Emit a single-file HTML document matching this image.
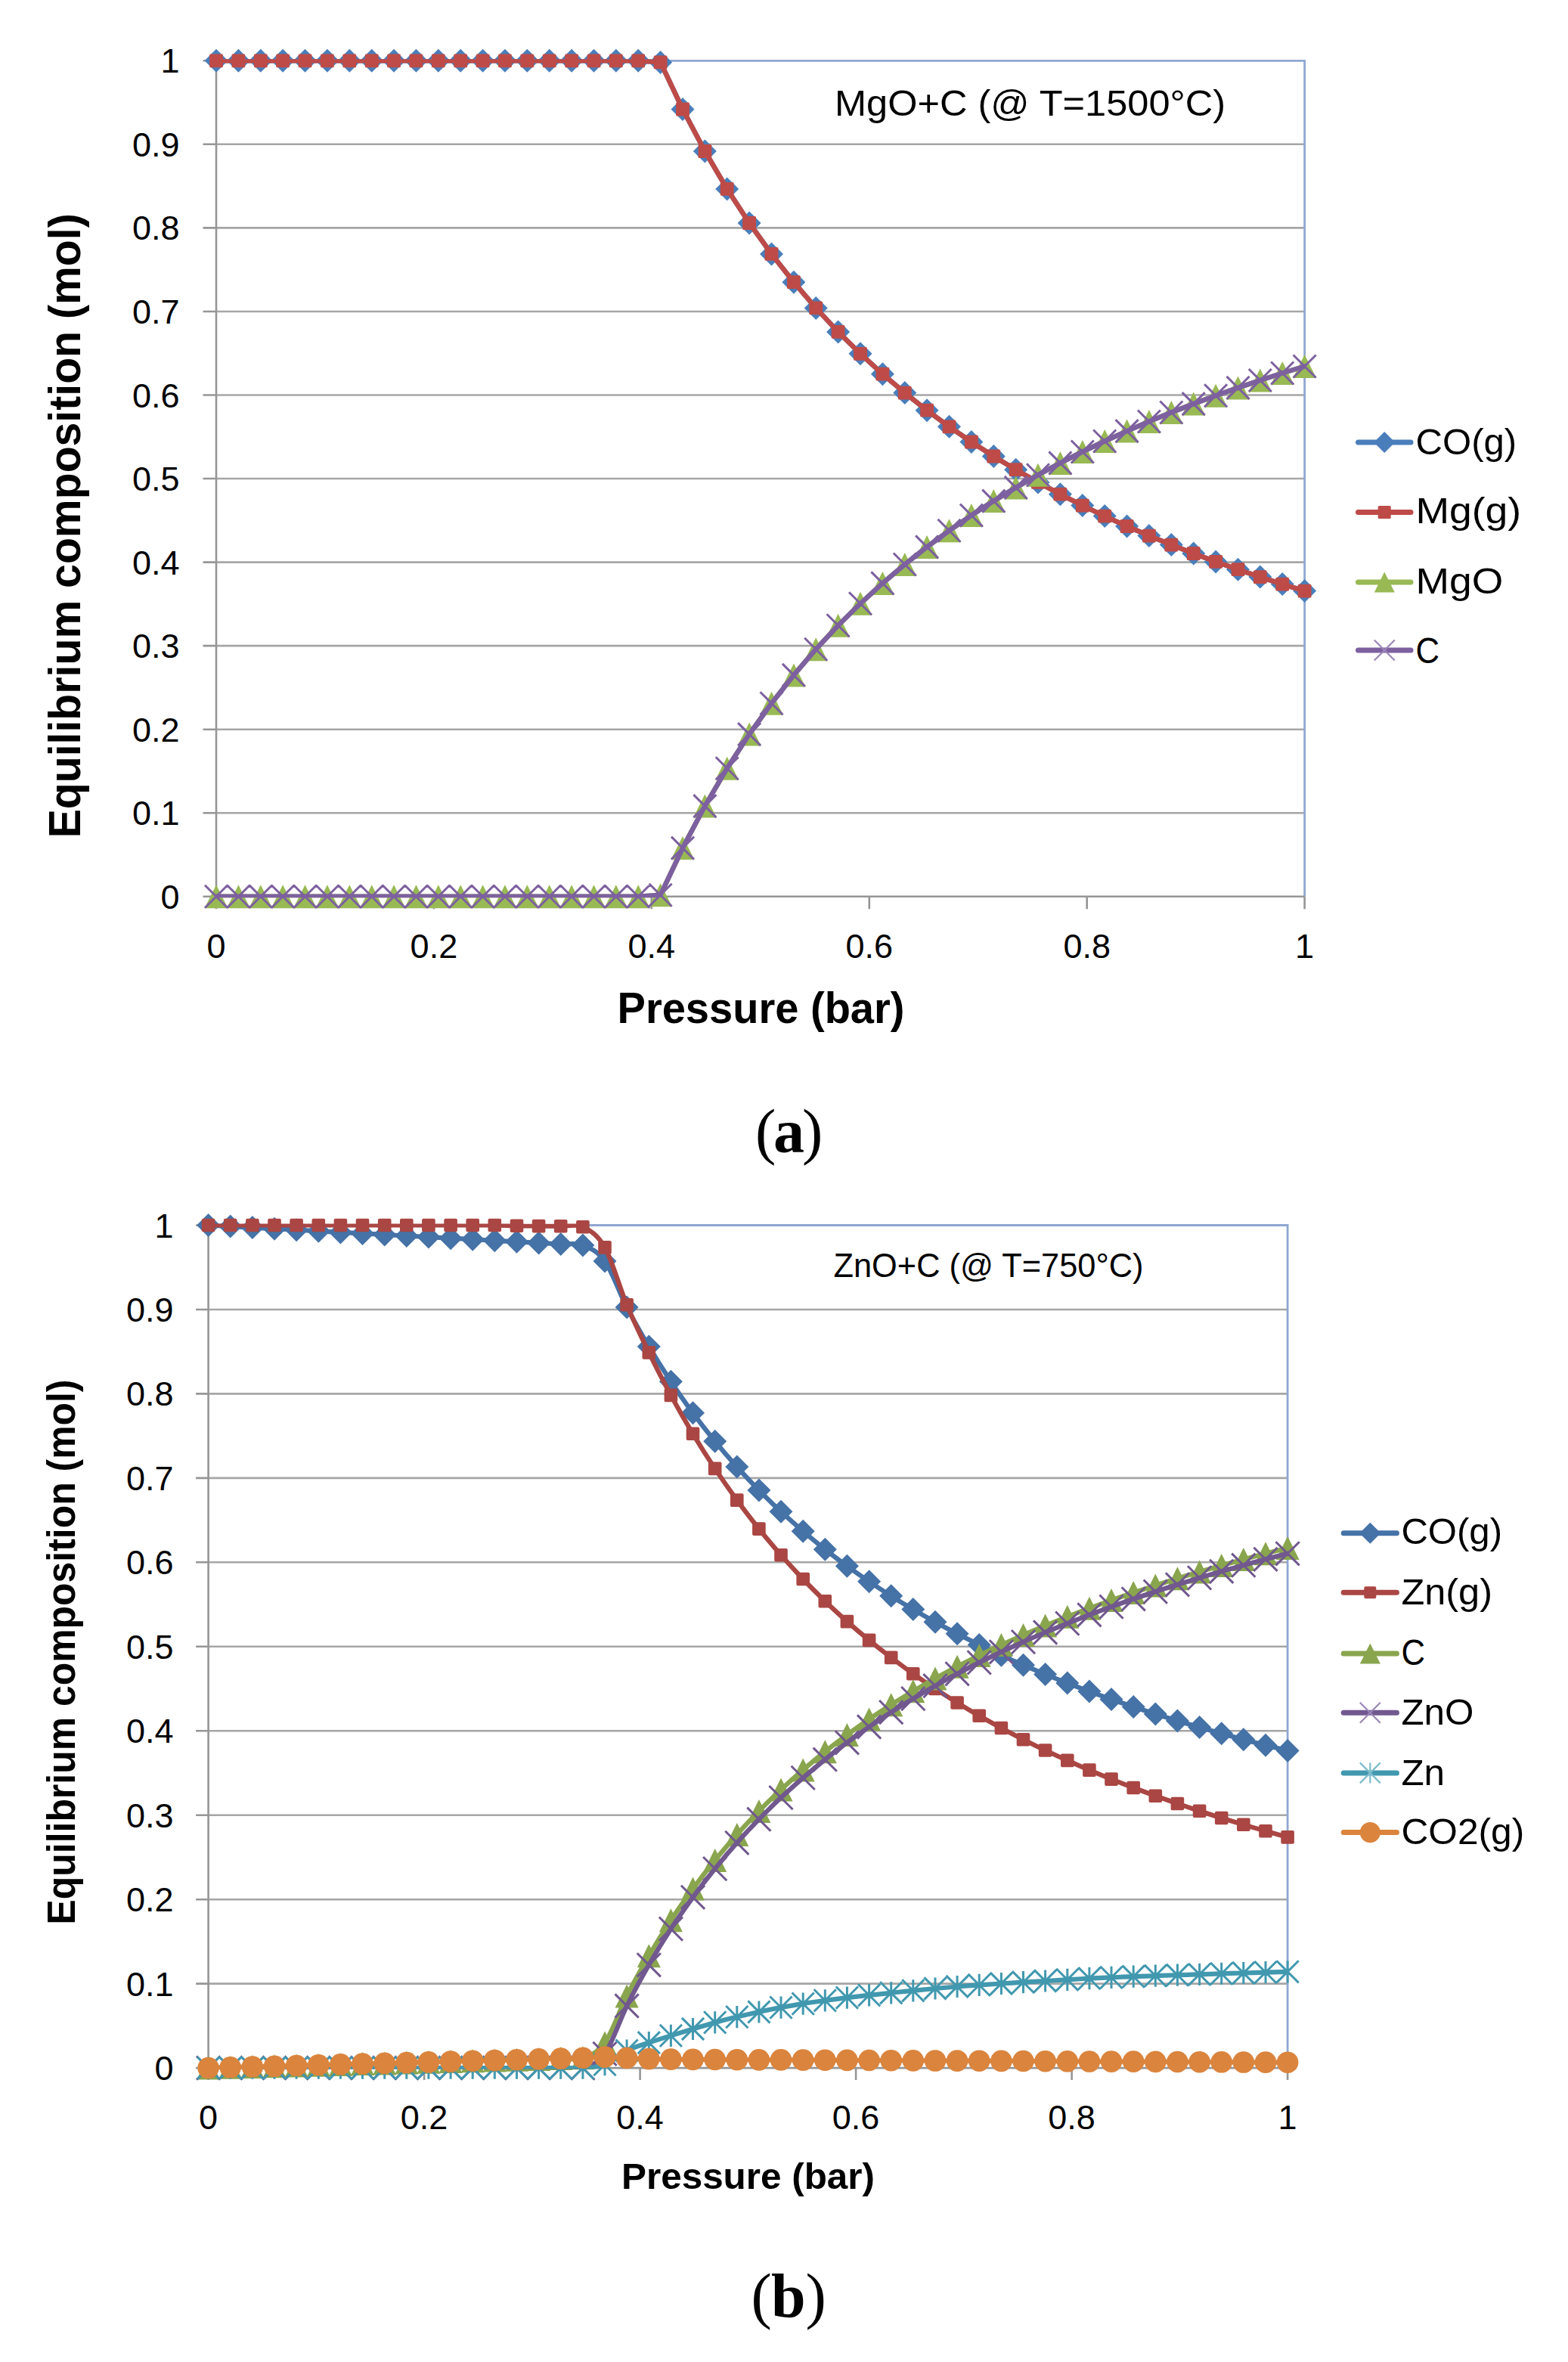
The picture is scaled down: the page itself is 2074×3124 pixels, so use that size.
<!DOCTYPE html>
<html lang="en"><head><meta charset="utf-8"><title>Equilibrium composition vs pressure</title>
<style>html,body{margin:0;padding:0;background:#fff}svg{display:block}text{fill:#000}</style></head>
<body>
<svg width="2074" height="3124" viewBox="0 0 2074 3124">
<rect width="2074" height="3124" fill="#fff"/>
<g>

<g id="chart-a">
<g fill="none" stroke="#a6a6a6" stroke-width="2.6">
<path d="M286 1075.2H1725.6M286 964.7H1725.6M286 854.1H1725.6M286 743.6H1725.6M286 633H1725.6M286 522.5H1725.6M286 412H1725.6M286 301.4H1725.6M286 190.8H1725.6"/>
</g>
<path d="M286 80.3H1725.6V1185.8" fill="none" stroke="#8fa7d3" stroke-width="2.8"/>
<path d="M286 80.3V1185.8M268.5 1185.8H1725.6M268.5 1185.8H286M268.5 1075.2H286M268.5 964.7H286M268.5 854.1H286M268.5 743.6H286M268.5 633H286M268.5 522.5H286M268.5 412H286M268.5 301.4H286M268.5 190.8H286M268.5 80.3H286M286 1185.8v16.5M573.9 1185.8v16.5M861.8 1185.8v16.5M1149.8 1185.8v16.5M1437.7 1185.8v16.5M1725.6 1185.8v16.5" fill="none" stroke="#969696" stroke-width="2.6"/>
<g font-family='"Liberation Sans", Arial, sans-serif' font-size="45" fill="#000">
<text x="237.5" y="1201.8" text-anchor="end">0</text>
<text x="237.5" y="1091.2" text-anchor="end">0.1</text>
<text x="237.5" y="980.7" text-anchor="end">0.2</text>
<text x="237.5" y="870.1" text-anchor="end">0.3</text>
<text x="237.5" y="759.6" text-anchor="end">0.4</text>
<text x="237.5" y="649" text-anchor="end">0.5</text>
<text x="237.5" y="538.5" text-anchor="end">0.6</text>
<text x="237.5" y="428" text-anchor="end">0.7</text>
<text x="237.5" y="317.4" text-anchor="end">0.8</text>
<text x="237.5" y="206.8" text-anchor="end">0.9</text>
<text x="237.5" y="96.3" text-anchor="end">1</text>
<text x="286" y="1266.5" text-anchor="middle">0</text>
<text x="573.9" y="1266.5" text-anchor="middle">0.2</text>
<text x="861.8" y="1266.5" text-anchor="middle">0.4</text>
<text x="1149.8" y="1266.5" text-anchor="middle">0.6</text>
<text x="1437.7" y="1266.5" text-anchor="middle">0.8</text>
<text x="1725.6" y="1266.5" text-anchor="middle">1</text>
</g>
<clipPath id="clip-a"><rect x="284" y="78.3" width="1443.6" height="1109"/></clipPath>
<path d="M286 80.3 315.4 80.3 344.8 80.3 374.1 80.3 403.5 80.3 432.9 80.3 462.3 80.3 491.7 80.3 521 80.3 550.4 80.3 579.8 80.3 609.2 80.3 638.6 80.3 667.9 80.3 697.3 80.3 726.7 80.3 756.1 80.3 785.5 80.3 814.8 80.3 844.2 80.3 873.6 82.4 903 144.5 932.4 200 961.7 249.9 991.1 295 1020.5 335.9 1049.9 373.2 1079.2 407.4 1108.6 438.9 1138 467.8 1167.4 494.7 1196.8 519.6 1226.1 542.7 1255.5 564.3 1284.9 584.5 1314.3 603.5 1343.7 621.2 1373 637.9 1402.4 653.7 1431.8 668.6 1461.2 682.6 1490.6 696 1519.9 708.6 1549.3 720.6 1578.7 732 1608.1 742.9 1637.5 753.2 1666.8 763.1 1696.2 772.6 1725.6 781.6" fill="none" stroke="#4a7ebb" stroke-width="6.5" stroke-linejoin="round" stroke-linecap="round" clip-path="url(#clip-a)"/>
<path d="M286 64.8l15.5 15.5 -15.5 15.5 -15.5 -15.5zM315.4 64.8l15.5 15.5 -15.5 15.5 -15.5 -15.5zM344.8 64.8l15.5 15.5 -15.5 15.5 -15.5 -15.5zM374.1 64.8l15.5 15.5 -15.5 15.5 -15.5 -15.5zM403.5 64.8l15.5 15.5 -15.5 15.5 -15.5 -15.5zM432.9 64.8l15.5 15.5 -15.5 15.5 -15.5 -15.5zM462.3 64.8l15.5 15.5 -15.5 15.5 -15.5 -15.5zM491.7 64.8l15.5 15.5 -15.5 15.5 -15.5 -15.5zM521 64.8l15.5 15.5 -15.5 15.5 -15.5 -15.5zM550.4 64.8l15.5 15.5 -15.5 15.5 -15.5 -15.5zM579.8 64.8l15.5 15.5 -15.5 15.5 -15.5 -15.5zM609.2 64.8l15.5 15.5 -15.5 15.5 -15.5 -15.5zM638.6 64.8l15.5 15.5 -15.5 15.5 -15.5 -15.5zM667.9 64.8l15.5 15.5 -15.5 15.5 -15.5 -15.5zM697.3 64.8l15.5 15.5 -15.5 15.5 -15.5 -15.5zM726.7 64.8l15.5 15.5 -15.5 15.5 -15.5 -15.5zM756.1 64.8l15.5 15.5 -15.5 15.5 -15.5 -15.5zM785.5 64.8l15.5 15.5 -15.5 15.5 -15.5 -15.5zM814.8 64.8l15.5 15.5 -15.5 15.5 -15.5 -15.5zM844.2 64.8l15.5 15.5 -15.5 15.5 -15.5 -15.5zM873.6 66.9l15.5 15.5 -15.5 15.5 -15.5 -15.5zM903 129l15.5 15.5 -15.5 15.5 -15.5 -15.5zM932.4 184.5l15.5 15.5 -15.5 15.5 -15.5 -15.5zM961.7 234.4l15.5 15.5 -15.5 15.5 -15.5 -15.5zM991.1 279.5l15.5 15.5 -15.5 15.5 -15.5 -15.5zM1020.5 320.4l15.5 15.5 -15.5 15.5 -15.5 -15.5zM1049.9 357.7l15.5 15.5 -15.5 15.5 -15.5 -15.5zM1079.2 391.9l15.5 15.5 -15.5 15.5 -15.5 -15.5zM1108.6 423.4l15.5 15.5 -15.5 15.5 -15.5 -15.5zM1138 452.3l15.5 15.5 -15.5 15.5 -15.5 -15.5zM1167.4 479.2l15.5 15.5 -15.5 15.5 -15.5 -15.5zM1196.8 504.1l15.5 15.5 -15.5 15.5 -15.5 -15.5zM1226.1 527.2l15.5 15.5 -15.5 15.5 -15.5 -15.5zM1255.5 548.8l15.5 15.5 -15.5 15.5 -15.5 -15.5zM1284.9 569l15.5 15.5 -15.5 15.5 -15.5 -15.5zM1314.3 588l15.5 15.5 -15.5 15.5 -15.5 -15.5zM1343.7 605.7l15.5 15.5 -15.5 15.5 -15.5 -15.5zM1373 622.4l15.5 15.5 -15.5 15.5 -15.5 -15.5zM1402.4 638.2l15.5 15.5 -15.5 15.5 -15.5 -15.5zM1431.8 653.1l15.5 15.5 -15.5 15.5 -15.5 -15.5zM1461.2 667.1l15.5 15.5 -15.5 15.5 -15.5 -15.5zM1490.6 680.5l15.5 15.5 -15.5 15.5 -15.5 -15.5zM1519.9 693.1l15.5 15.5 -15.5 15.5 -15.5 -15.5zM1549.3 705.1l15.5 15.5 -15.5 15.5 -15.5 -15.5zM1578.7 716.5l15.5 15.5 -15.5 15.5 -15.5 -15.5zM1608.1 727.4l15.5 15.5 -15.5 15.5 -15.5 -15.5zM1637.5 737.7l15.5 15.5 -15.5 15.5 -15.5 -15.5zM1666.8 747.6l15.5 15.5 -15.5 15.5 -15.5 -15.5zM1696.2 757.1l15.5 15.5 -15.5 15.5 -15.5 -15.5zM1725.6 766.1l15.5 15.5 -15.5 15.5 -15.5 -15.5z" fill="#4a7ebb"/>
<path d="M286 80.3 315.4 80.3 344.8 80.3 374.1 80.3 403.5 80.3 432.9 80.3 462.3 80.3 491.7 80.3 521 80.3 550.4 80.3 579.8 80.3 609.2 80.3 638.6 80.3 667.9 80.3 697.3 80.3 726.7 80.3 756.1 80.3 785.5 80.3 814.8 80.3 844.2 80.3 873.6 82.4 903 144.5 932.4 200 961.7 249.9 991.1 295 1020.5 335.9 1049.9 373.2 1079.2 407.4 1108.6 438.9 1138 467.8 1167.4 494.7 1196.8 519.6 1226.1 542.7 1255.5 564.3 1284.9 584.5 1314.3 603.5 1343.7 621.2 1373 637.9 1402.4 653.7 1431.8 668.6 1461.2 682.6 1490.6 696 1519.9 708.6 1549.3 720.6 1578.7 732 1608.1 742.9 1637.5 753.2 1666.8 763.1 1696.2 772.6 1725.6 781.6" fill="none" stroke="#be4b48" stroke-width="6.5" stroke-linejoin="round" stroke-linecap="round" clip-path="url(#clip-a)"/>
<path d="M278.6 72.9h14.8v14.8h-14.8zM308 72.9h14.8v14.8h-14.8zM337.4 72.9h14.8v14.8h-14.8zM366.7 72.9h14.8v14.8h-14.8zM396.1 72.9h14.8v14.8h-14.8zM425.5 72.9h14.8v14.8h-14.8zM454.9 72.9h14.8v14.8h-14.8zM484.3 72.9h14.8v14.8h-14.8zM513.6 72.9h14.8v14.8h-14.8zM543 72.9h14.8v14.8h-14.8zM572.4 72.9h14.8v14.8h-14.8zM601.8 72.9h14.8v14.8h-14.8zM631.2 72.9h14.8v14.8h-14.8zM660.5 72.9h14.8v14.8h-14.8zM689.9 72.9h14.8v14.8h-14.8zM719.3 72.9h14.8v14.8h-14.8zM748.7 72.9h14.8v14.8h-14.8zM778.1 72.9h14.8v14.8h-14.8zM807.4 72.9h14.8v14.8h-14.8zM836.8 72.9h14.8v14.8h-14.8zM866.2 75h14.8v14.8h-14.8zM895.6 137.1h14.8v14.8h-14.8zM925 192.6h14.8v14.8h-14.8zM954.3 242.5h14.8v14.8h-14.8zM983.7 287.6h14.8v14.8h-14.8zM1013.1 328.5h14.8v14.8h-14.8zM1042.5 365.8h14.8v14.8h-14.8zM1071.8 400h14.8v14.8h-14.8zM1101.2 431.5h14.8v14.8h-14.8zM1130.6 460.4h14.8v14.8h-14.8zM1160 487.3h14.8v14.8h-14.8zM1189.4 512.2h14.8v14.8h-14.8zM1218.7 535.3h14.8v14.8h-14.8zM1248.1 556.9h14.8v14.8h-14.8zM1277.5 577.1h14.8v14.8h-14.8zM1306.9 596.1h14.8v14.8h-14.8zM1336.3 613.8h14.8v14.8h-14.8zM1365.6 630.5h14.8v14.8h-14.8zM1395 646.3h14.8v14.8h-14.8zM1424.4 661.2h14.8v14.8h-14.8zM1453.8 675.2h14.8v14.8h-14.8zM1483.2 688.6h14.8v14.8h-14.8zM1512.5 701.2h14.8v14.8h-14.8zM1541.9 713.2h14.8v14.8h-14.8zM1571.3 724.6h14.8v14.8h-14.8zM1600.7 735.5h14.8v14.8h-14.8zM1630.1 745.8h14.8v14.8h-14.8zM1659.4 755.7h14.8v14.8h-14.8zM1688.8 765.2h14.8v14.8h-14.8zM1718.2 774.2h14.8v14.8h-14.8z" fill="#be4b48" stroke="#be4b48" stroke-width="3" stroke-linejoin="round"/>
<path d="M286 1185.8 315.4 1185.8 344.8 1185.8 374.1 1185.8 403.5 1185.8 432.9 1185.8 462.3 1185.8 491.7 1185.8 521 1185.8 550.4 1185.8 579.8 1185.8 609.2 1185.8 638.6 1185.8 667.9 1185.8 697.3 1185.8 726.7 1185.8 756.1 1185.8 785.5 1185.8 814.8 1185.8 844.2 1185.8 873.6 1183.7 903 1121.6 932.4 1066.1 961.7 1016.2 991.1 971.1 1020.5 930.2 1049.9 892.9 1079.2 858.7 1108.6 827.2 1138 798.3 1167.4 771.4 1196.8 746.5 1226.1 723.4 1255.5 701.8 1284.9 681.6 1314.3 662.6 1343.7 644.9 1373 628.2 1402.4 612.4 1431.8 597.5 1461.2 583.5 1490.6 570.1 1519.9 557.5 1549.3 545.5 1578.7 534.1 1608.1 523.2 1637.5 512.9 1666.8 503 1696.2 493.5 1725.6 484.5" fill="none" stroke="#98b954" stroke-width="6.5" stroke-linejoin="round" stroke-linecap="round" clip-path="url(#clip-a)"/>
<path d="M286 1170.3L301.5 1201.3H270.5zM315.4 1170.3L330.9 1201.3H299.9zM344.8 1170.3L360.3 1201.3H329.3zM374.1 1170.3L389.6 1201.3H358.6zM403.5 1170.3L419 1201.3H388zM432.9 1170.3L448.4 1201.3H417.4zM462.3 1170.3L477.8 1201.3H446.8zM491.7 1170.3L507.2 1201.3H476.2zM521 1170.3L536.5 1201.3H505.5zM550.4 1170.3L565.9 1201.3H534.9zM579.8 1170.3L595.3 1201.3H564.3zM609.2 1170.3L624.7 1201.3H593.7zM638.6 1170.3L654.1 1201.3H623.1zM667.9 1170.3L683.4 1201.3H652.4zM697.3 1170.3L712.8 1201.3H681.8zM726.7 1170.3L742.2 1201.3H711.2zM756.1 1170.3L771.6 1201.3H740.6zM785.5 1170.3L801 1201.3H770zM814.8 1170.3L830.3 1201.3H799.3zM844.2 1170.3L859.7 1201.3H828.7zM873.6 1168.2L889.1 1199.2H858.1zM903 1106.1L918.5 1137.1H887.5zM932.4 1050.6L947.9 1081.6H916.9zM961.7 1000.7L977.2 1031.7H946.2zM991.1 955.6L1006.6 986.6H975.6zM1020.5 914.7L1036 945.7H1005zM1049.9 877.4L1065.4 908.4H1034.4zM1079.2 843.2L1094.7 874.2H1063.7zM1108.6 811.7L1124.1 842.7H1093.1zM1138 782.8L1153.5 813.8H1122.5zM1167.4 755.9L1182.9 786.9H1151.9zM1196.8 731L1212.3 762H1181.3zM1226.1 707.9L1241.6 738.9H1210.6zM1255.5 686.3L1271 717.3H1240zM1284.9 666.1L1300.4 697.1H1269.4zM1314.3 647.1L1329.8 678.1H1298.8zM1343.7 629.4L1359.2 660.4H1328.2zM1373 612.7L1388.5 643.7H1357.5zM1402.4 596.9L1417.9 627.9H1386.9zM1431.8 582L1447.3 613H1416.3zM1461.2 568L1476.7 599H1445.7zM1490.6 554.6L1506.1 585.6H1475.1zM1519.9 542L1535.4 573H1504.4zM1549.3 530L1564.8 561H1533.8zM1578.7 518.6L1594.2 549.6H1563.2zM1608.1 507.7L1623.6 538.7H1592.6zM1637.5 497.4L1653 528.4H1622zM1666.8 487.5L1682.3 518.5H1651.3zM1696.2 478L1711.7 509H1680.7zM1725.6 469L1741.1 500H1710.1z" fill="#98b954"/>
<path d="M286 1185.8 315.4 1185.8 344.8 1185.8 374.1 1185.8 403.5 1185.8 432.9 1185.8 462.3 1185.8 491.7 1185.8 521 1185.8 550.4 1185.8 579.8 1185.8 609.2 1185.8 638.6 1185.8 667.9 1185.8 697.3 1185.8 726.7 1185.8 756.1 1185.8 785.5 1185.8 814.8 1185.8 844.2 1185.8 873.6 1183.7 903 1121.6 932.4 1066.1 961.7 1016.2 991.1 971.1 1020.5 930.2 1049.9 892.9 1079.2 858.7 1108.6 827.2 1138 798.3 1167.4 771.4 1196.8 746.5 1226.1 723.4 1255.5 701.8 1284.9 681.6 1314.3 662.6 1343.7 644.9 1373 628.2 1402.4 612.4 1431.8 597.5 1461.2 583.5 1490.6 570.1 1519.9 557.5 1549.3 545.5 1578.7 534.1 1608.1 523.2 1637.5 512.9 1666.8 503 1696.2 493.5 1725.6 484.5" fill="none" stroke="#7d60a0" stroke-width="6.5" stroke-linejoin="round" stroke-linecap="round" clip-path="url(#clip-a)"/>
<path d="M271 1170.8l30 30M271 1200.8l30 -30M300.4 1170.8l30 30M300.4 1200.8l30 -30M329.8 1170.8l30 30M329.8 1200.8l30 -30M359.1 1170.8l30 30M359.1 1200.8l30 -30M388.5 1170.8l30 30M388.5 1200.8l30 -30M417.9 1170.8l30 30M417.9 1200.8l30 -30M447.3 1170.8l30 30M447.3 1200.8l30 -30M476.7 1170.8l30 30M476.7 1200.8l30 -30M506 1170.8l30 30M506 1200.8l30 -30M535.4 1170.8l30 30M535.4 1200.8l30 -30M564.8 1170.8l30 30M564.8 1200.8l30 -30M594.2 1170.8l30 30M594.2 1200.8l30 -30M623.6 1170.8l30 30M623.6 1200.8l30 -30M652.9 1170.8l30 30M652.9 1200.8l30 -30M682.3 1170.8l30 30M682.3 1200.8l30 -30M711.7 1170.8l30 30M711.7 1200.8l30 -30M741.1 1170.8l30 30M741.1 1200.8l30 -30M770.5 1170.8l30 30M770.5 1200.8l30 -30M799.8 1170.8l30 30M799.8 1200.8l30 -30M829.2 1170.8l30 30M829.2 1200.8l30 -30M858.6 1168.7l30 30M858.6 1198.7l30 -30M888 1106.6l30 30M888 1136.6l30 -30M917.4 1051.1l30 30M917.4 1081.1l30 -30M946.7 1001.2l30 30M946.7 1031.2l30 -30M976.1 956.1l30 30M976.1 986.1l30 -30M1005.5 915.2l30 30M1005.5 945.2l30 -30M1034.9 877.9l30 30M1034.9 907.9l30 -30M1064.2 843.7l30 30M1064.2 873.7l30 -30M1093.6 812.2l30 30M1093.6 842.2l30 -30M1123 783.3l30 30M1123 813.3l30 -30M1152.4 756.4l30 30M1152.4 786.4l30 -30M1181.8 731.5l30 30M1181.8 761.5l30 -30M1211.1 708.4l30 30M1211.1 738.4l30 -30M1240.5 686.8l30 30M1240.5 716.8l30 -30M1269.9 666.6l30 30M1269.9 696.6l30 -30M1299.3 647.6l30 30M1299.3 677.6l30 -30M1328.7 629.9l30 30M1328.7 659.9l30 -30M1358 613.2l30 30M1358 643.2l30 -30M1387.4 597.4l30 30M1387.4 627.4l30 -30M1416.8 582.5l30 30M1416.8 612.5l30 -30M1446.2 568.5l30 30M1446.2 598.5l30 -30M1475.6 555.1l30 30M1475.6 585.1l30 -30M1504.9 542.5l30 30M1504.9 572.5l30 -30M1534.3 530.5l30 30M1534.3 560.5l30 -30M1563.7 519.1l30 30M1563.7 549.1l30 -30M1593.1 508.2l30 30M1593.1 538.2l30 -30M1622.5 497.9l30 30M1622.5 527.9l30 -30M1651.8 488l30 30M1651.8 518l30 -30M1681.2 478.5l30 30M1681.2 508.5l30 -30M1710.6 469.5l30 30M1710.6 499.5l30 -30" fill="none" stroke="#7d60a0" stroke-width="3"/>
<path d="M1796.5 585H1866" stroke="#4a7ebb" stroke-width="7" stroke-linecap="round" fill="none"/>
<path d="M1831.2 571l14 14 -14 14 -14 -14z" fill="#4a7ebb"/>
<text x="1872.5" y="601" font-family='"Liberation Sans", Arial, sans-serif' font-size="49" textLength="133.7" lengthAdjust="spacingAndGlyphs">CO(g)</text>

<path d="M1796.5 677.4H1866" stroke="#be4b48" stroke-width="7" stroke-linecap="round" fill="none"/>
<path d="M1824.2 670.4h14v14h-14z" fill="#be4b48" stroke="#be4b48" stroke-width="3" stroke-linejoin="round"/>
<text x="1872.5" y="692" font-family='"Liberation Sans", Arial, sans-serif' font-size="49" textLength="139.7" lengthAdjust="spacingAndGlyphs">Mg(g)</text>

<path d="M1796.5 770H1866" stroke="#98b954" stroke-width="7" stroke-linecap="round" fill="none"/>
<path d="M1831.2 756.5L1844.8 783.5H1817.8z" fill="#98b954"/>
<text x="1872.5" y="785" font-family='"Liberation Sans", Arial, sans-serif' font-size="49" textLength="115.7" lengthAdjust="spacingAndGlyphs">MgO</text>

<path d="M1796.5 860H1866" stroke="#7d60a0" stroke-width="7" stroke-linecap="round" fill="none"/>
<path d="M1817.8 846.5l27 27M1817.8 873.5l27 -27" fill="none" stroke="#9a86b8" stroke-width="2.2"/>
<text x="1872.5" y="877" font-family='"Liberation Sans", Arial, sans-serif' font-size="49" textLength="31.5" lengthAdjust="spacingAndGlyphs">C</text>

<text x="1104" y="153" font-family='"Liberation Sans", Arial, sans-serif' font-size="49" textLength="517" lengthAdjust="spacingAndGlyphs">MgO+C (@ T=1500°C)</text>

<text x="816.5" y="1352.9" font-family='"Liberation Sans", Arial, sans-serif' font-size="57.7" font-weight="bold" textLength="380" lengthAdjust="spacingAndGlyphs">Pressure (bar)</text>

<text transform="translate(106.2 1108.3) rotate(-90)" font-family='"Liberation Sans", Arial, sans-serif' font-size="60" font-weight="bold" textLength="826" lengthAdjust="spacingAndGlyphs">Equilibrium composition (mol)</text>
</g>
<text y="1523.5" font-family='"Liberation Serif", "DejaVu Serif", serif' font-size="82"><tspan x="999">(</tspan><tspan x="1023" font-weight="bold">a</tspan><tspan x="1061">)</tspan></text>
<g id="chart-b">
<g fill="none" stroke="#a6a6a6" stroke-width="2.6">
<path d="M275.6 2623.6H1703.1M275.6 2512.2H1703.1M275.6 2400.7H1703.1M275.6 2289.3H1703.1M275.6 2177.8H1703.1M275.6 2066.3H1703.1M275.6 1954.9H1703.1M275.6 1843.4H1703.1M275.6 1732H1703.1"/>
</g>
<path d="M275.6 1620.5H1703.1V2735.1" fill="none" stroke="#8fa7d3" stroke-width="2.8"/>
<path d="M275.6 1620.5V2735.1M259.1 2735.1H1703.1M259.1 2735.1H275.6M259.1 2623.6H275.6M259.1 2512.2H275.6M259.1 2400.7H275.6M259.1 2289.3H275.6M259.1 2177.8H275.6M259.1 2066.3H275.6M259.1 1954.9H275.6M259.1 1843.4H275.6M259.1 1732H275.6M259.1 1620.5H275.6M275.6 2735.1v16M561.1 2735.1v16M846.6 2735.1v16M1132.1 2735.1v16M1417.6 2735.1v16M1703.1 2735.1v16" fill="none" stroke="#969696" stroke-width="2.6"/>
<g font-family='"Liberation Sans", Arial, sans-serif' font-size="45" fill="#000">
<text x="229.5" y="2751.1" text-anchor="end">0</text>
<text x="229.5" y="2639.6" text-anchor="end">0.1</text>
<text x="229.5" y="2528.2" text-anchor="end">0.2</text>
<text x="229.5" y="2416.7" text-anchor="end">0.3</text>
<text x="229.5" y="2305.3" text-anchor="end">0.4</text>
<text x="229.5" y="2193.8" text-anchor="end">0.5</text>
<text x="229.5" y="2082.3" text-anchor="end">0.6</text>
<text x="229.5" y="1970.9" text-anchor="end">0.7</text>
<text x="229.5" y="1859.4" text-anchor="end">0.8</text>
<text x="229.5" y="1748" text-anchor="end">0.9</text>
<text x="229.5" y="1636.5" text-anchor="end">1</text>
<text x="275.6" y="2816.3" text-anchor="middle">0</text>
<text x="561.1" y="2816.3" text-anchor="middle">0.2</text>
<text x="846.6" y="2816.3" text-anchor="middle">0.4</text>
<text x="1132.1" y="2816.3" text-anchor="middle">0.6</text>
<text x="1417.6" y="2816.3" text-anchor="middle">0.8</text>
<text x="1703.1" y="2816.3" text-anchor="middle">1</text>
</g>
<clipPath id="clip-b"><rect x="273.6" y="1618.5" width="1431.5" height="1118.1"/></clipPath>
<path d="M275.6 1620.5C280.5 1620.8 295 1621.5 304.7 1622.1C314.4 1622.6 324.2 1623.1 333.9 1623.6C343.6 1624.1 353.3 1624.7 363 1625.2C372.7 1625.7 382.4 1626.2 392.1 1626.7C401.8 1627.3 411.6 1627.8 421.3 1628.3C431 1628.8 440.7 1629.3 450.4 1629.9C460.1 1630.4 469.8 1630.9 479.5 1631.4C489.2 1631.9 499 1632.5 508.7 1633C518.4 1633.5 528.1 1634 537.8 1634.5C547.5 1635.1 557.2 1635.6 566.9 1636.1C576.6 1636.6 586.3 1637.1 596.1 1637.7C605.8 1638.2 615.5 1638.7 625.2 1639.2C634.9 1639.7 644.6 1640.3 654.3 1640.8C664 1641.3 673.7 1641.8 683.5 1642.3C693.2 1642.9 702.9 1643.4 712.6 1643.9C722.3 1644.4 732 1644.9 741.7 1645.5C751.4 1646 761.1 1643.3 770.9 1647C780.6 1650.8 790.3 1654.5 800 1668.1C809.7 1681.7 819.4 1710.1 829.1 1728.9C838.8 1747.7 848.5 1764.5 858.3 1780.9C868 1797.3 877.7 1812.6 887.4 1827.2C897.1 1841.9 906.8 1855.6 916.5 1868.8C926.2 1881.9 935.9 1894.3 945.7 1906.2C955.4 1918.1 965.1 1929.3 974.8 1940.1C984.5 1950.9 994.2 1961.2 1003.9 1971C1013.6 1980.9 1023.3 1990.3 1033 1999.3C1042.8 2008.3 1052.5 2016.9 1062.2 2025.2C1071.9 2033.6 1081.6 2041.5 1091.3 2049.2C1101 2056.8 1110.7 2064.2 1120.4 2071.3C1130.2 2078.4 1139.9 2085.2 1149.6 2091.8C1159.3 2098.4 1169 2104.7 1178.7 2110.8C1188.4 2117 1198.1 2122.9 1207.8 2128.6C1217.6 2134.3 1227.3 2139.9 1237 2145.2C1246.7 2150.6 1256.4 2155.8 1266.1 2160.8C1275.8 2165.8 1285.5 2170.7 1295.2 2175.4C1305 2180.2 1314.7 2184.8 1324.4 2189.2C1334.1 2193.7 1343.8 2198 1353.5 2202.2C1363.2 2206.4 1372.9 2210.5 1382.6 2214.5C1392.4 2218.4 1402.1 2222.3 1411.8 2226.1C1421.5 2229.8 1431.2 2233.5 1440.9 2237.1C1450.6 2240.7 1460.3 2244.1 1470 2247.5C1479.7 2250.9 1489.5 2254.2 1499.2 2257.5C1508.9 2260.7 1518.6 2263.9 1528.3 2266.9C1538 2270 1547.7 2273 1557.4 2276C1567.1 2278.9 1576.9 2281.8 1586.6 2284.6C1596.3 2287.4 1606 2290.1 1615.7 2292.8C1625.4 2295.5 1635.1 2298.2 1644.8 2300.7C1654.5 2303.3 1664.3 2305.8 1674 2308.3C1683.7 2310.8 1698.2 2314.3 1703.1 2315.5" fill="none" stroke="#4572a7" stroke-width="6.2" stroke-linejoin="round" stroke-linecap="round" clip-path="url(#clip-b)"/>
<path d="M275.6 1605l15.5 15.5 -15.5 15.5 -15.5 -15.5zM304.7 1606.6l15.5 15.5 -15.5 15.5 -15.5 -15.5zM333.9 1608.1l15.5 15.5 -15.5 15.5 -15.5 -15.5zM363 1609.7l15.5 15.5 -15.5 15.5 -15.5 -15.5zM392.1 1611.2l15.5 15.5 -15.5 15.5 -15.5 -15.5zM421.3 1612.8l15.5 15.5 -15.5 15.5 -15.5 -15.5zM450.4 1614.4l15.5 15.5 -15.5 15.5 -15.5 -15.5zM479.5 1615.9l15.5 15.5 -15.5 15.5 -15.5 -15.5zM508.7 1617.5l15.5 15.5 -15.5 15.5 -15.5 -15.5zM537.8 1619l15.5 15.5 -15.5 15.5 -15.5 -15.5zM566.9 1620.6l15.5 15.5 -15.5 15.5 -15.5 -15.5zM596.1 1622.2l15.5 15.5 -15.5 15.5 -15.5 -15.5zM625.2 1623.7l15.5 15.5 -15.5 15.5 -15.5 -15.5zM654.3 1625.3l15.5 15.5 -15.5 15.5 -15.5 -15.5zM683.5 1626.8l15.5 15.5 -15.5 15.5 -15.5 -15.5zM712.6 1628.4l15.5 15.5 -15.5 15.5 -15.5 -15.5zM741.7 1630l15.5 15.5 -15.5 15.5 -15.5 -15.5zM770.9 1631.5l15.5 15.5 -15.5 15.5 -15.5 -15.5zM800 1652.6l15.5 15.5 -15.5 15.5 -15.5 -15.5zM829.1 1713.4l15.5 15.5 -15.5 15.5 -15.5 -15.5zM858.3 1765.4l15.5 15.5 -15.5 15.5 -15.5 -15.5zM887.4 1811.7l15.5 15.5 -15.5 15.5 -15.5 -15.5zM916.5 1853.3l15.5 15.5 -15.5 15.5 -15.5 -15.5zM945.7 1890.7l15.5 15.5 -15.5 15.5 -15.5 -15.5zM974.8 1924.6l15.5 15.5 -15.5 15.5 -15.5 -15.5zM1003.9 1955.5l15.5 15.5 -15.5 15.5 -15.5 -15.5zM1033 1983.8l15.5 15.5 -15.5 15.5 -15.5 -15.5zM1062.2 2009.7l15.5 15.5 -15.5 15.5 -15.5 -15.5zM1091.3 2033.7l15.5 15.5 -15.5 15.5 -15.5 -15.5zM1120.4 2055.8l15.5 15.5 -15.5 15.5 -15.5 -15.5zM1149.6 2076.3l15.5 15.5 -15.5 15.5 -15.5 -15.5zM1178.7 2095.3l15.5 15.5 -15.5 15.5 -15.5 -15.5zM1207.8 2113.1l15.5 15.5 -15.5 15.5 -15.5 -15.5zM1237 2129.7l15.5 15.5 -15.5 15.5 -15.5 -15.5zM1266.1 2145.3l15.5 15.5 -15.5 15.5 -15.5 -15.5zM1295.2 2159.9l15.5 15.5 -15.5 15.5 -15.5 -15.5zM1324.4 2173.7l15.5 15.5 -15.5 15.5 -15.5 -15.5zM1353.5 2186.7l15.5 15.5 -15.5 15.5 -15.5 -15.5zM1382.6 2199l15.5 15.5 -15.5 15.5 -15.5 -15.5zM1411.8 2210.6l15.5 15.5 -15.5 15.5 -15.5 -15.5zM1440.9 2221.6l15.5 15.5 -15.5 15.5 -15.5 -15.5zM1470 2232l15.5 15.5 -15.5 15.5 -15.5 -15.5zM1499.2 2242l15.5 15.5 -15.5 15.5 -15.5 -15.5zM1528.3 2251.4l15.5 15.5 -15.5 15.5 -15.5 -15.5zM1557.4 2260.5l15.5 15.5 -15.5 15.5 -15.5 -15.5zM1586.6 2269.1l15.5 15.5 -15.5 15.5 -15.5 -15.5zM1615.7 2277.3l15.5 15.5 -15.5 15.5 -15.5 -15.5zM1644.8 2285.2l15.5 15.5 -15.5 15.5 -15.5 -15.5zM1674 2292.8l15.5 15.5 -15.5 15.5 -15.5 -15.5zM1703.1 2300l15.5 15.5 -15.5 15.5 -15.5 -15.5z" fill="#4572a7"/>
<path d="M275.6 1620.5C280.5 1620.5 295 1620.5 304.7 1620.5C314.4 1620.5 324.2 1620.5 333.9 1620.5C343.6 1620.5 353.3 1620.5 363 1620.5C372.7 1620.5 382.4 1620.5 392.1 1620.5C401.8 1620.5 411.6 1620.5 421.3 1620.5C431 1620.5 440.7 1620.5 450.4 1620.5C460.1 1620.5 469.8 1620.5 479.5 1620.5C489.2 1620.5 499 1620.5 508.7 1620.5C518.4 1620.5 528.1 1620.5 537.8 1620.5C547.5 1620.5 557.2 1620.5 566.9 1620.5C576.6 1620.5 586.3 1620.5 596.1 1620.5C605.8 1620.5 615.5 1620.5 625.2 1620.5C634.9 1620.5 644.6 1620.4 654.3 1620.5C664 1620.6 673.7 1621.1 683.5 1621.3C693.2 1621.5 702.9 1621.5 712.6 1621.6C722.3 1621.7 732 1621.7 741.7 1621.8C751.4 1622 761.1 1618 770.9 1622.7C780.6 1627.4 790.3 1632.8 800 1649.9C809.7 1667.1 819.4 1702.6 829.1 1725.8C838.8 1748.9 848.5 1768.9 858.3 1788.9C868 1808.8 877.7 1827.5 887.4 1845.4C897.1 1863.3 906.8 1880.2 916.5 1896.3C926.2 1912.5 935.9 1927.7 945.7 1942.4C955.4 1957 965.1 1970.8 974.8 1984.1C984.5 1997.4 994.2 2009.9 1003.9 2022.1C1013.6 2034.2 1023.3 2045.7 1033 2056.7C1042.8 2067.8 1052.5 2078.3 1062.2 2088.5C1071.9 2098.7 1081.6 2108.3 1091.3 2117.7C1101 2127 1110.7 2135.9 1120.4 2144.6C1130.2 2153.2 1139.9 2161.4 1149.6 2169.4C1159.3 2177.3 1169 2185 1178.7 2192.4C1188.4 2199.7 1198.1 2206.8 1207.8 2213.7C1217.6 2220.6 1227.3 2227.2 1237 2233.5C1246.7 2239.9 1256.4 2246.1 1266.1 2252C1275.8 2258 1285.5 2263.8 1295.2 2269.3C1305 2274.9 1314.7 2280.3 1324.4 2285.5C1334.1 2290.8 1343.8 2295.8 1353.5 2300.7C1363.2 2305.6 1372.9 2310.4 1382.6 2315C1392.4 2319.6 1402.1 2324.1 1411.8 2328.4C1421.5 2332.8 1431.2 2337 1440.9 2341.1C1450.6 2345.2 1460.3 2349.2 1470 2353.1C1479.7 2357 1489.5 2360.8 1499.2 2364.5C1508.9 2368.1 1518.6 2371.7 1528.3 2375.2C1538 2378.7 1547.7 2382.1 1557.4 2385.5C1567.1 2388.8 1576.9 2392 1586.6 2395.2C1596.3 2398.4 1606 2401.4 1615.7 2404.5C1625.4 2407.5 1635.1 2410.4 1644.8 2413.3C1654.5 2416.2 1664.3 2419 1674 2421.8C1683.7 2424.5 1698.2 2428.5 1703.1 2429.9" fill="none" stroke="#aa4643" stroke-width="6.2" stroke-linejoin="round" stroke-linecap="round" clip-path="url(#clip-b)"/>
<path d="M268.8 1613.7h13.6v13.6h-13.6zM297.9 1613.7h13.6v13.6h-13.6zM327.1 1613.7h13.6v13.6h-13.6zM356.2 1613.7h13.6v13.6h-13.6zM385.3 1613.7h13.6v13.6h-13.6zM414.5 1613.7h13.6v13.6h-13.6zM443.6 1613.7h13.6v13.6h-13.6zM472.7 1613.7h13.6v13.6h-13.6zM501.9 1613.7h13.6v13.6h-13.6zM531 1613.7h13.6v13.6h-13.6zM560.1 1613.7h13.6v13.6h-13.6zM589.3 1613.7h13.6v13.6h-13.6zM618.4 1613.7h13.6v13.6h-13.6zM647.5 1613.7h13.6v13.6h-13.6zM676.7 1614.5h13.6v13.6h-13.6zM705.8 1614.8h13.6v13.6h-13.6zM734.9 1615h13.6v13.6h-13.6zM764.1 1615.9h13.6v13.6h-13.6zM793.2 1643.1h13.6v13.6h-13.6zM822.3 1719h13.6v13.6h-13.6zM851.5 1782.1h13.6v13.6h-13.6zM880.6 1838.6h13.6v13.6h-13.6zM909.7 1889.5h13.6v13.6h-13.6zM938.9 1935.6h13.6v13.6h-13.6zM968 1977.3h13.6v13.6h-13.6zM997.1 2015.3h13.6v13.6h-13.6zM1026.2 2049.9h13.6v13.6h-13.6zM1055.4 2081.7h13.6v13.6h-13.6zM1084.5 2110.9h13.6v13.6h-13.6zM1113.6 2137.8h13.6v13.6h-13.6zM1142.8 2162.6h13.6v13.6h-13.6zM1171.9 2185.6h13.6v13.6h-13.6zM1201 2206.9h13.6v13.6h-13.6zM1230.2 2226.7h13.6v13.6h-13.6zM1259.3 2245.2h13.6v13.6h-13.6zM1288.4 2262.5h13.6v13.6h-13.6zM1317.6 2278.7h13.6v13.6h-13.6zM1346.7 2293.9h13.6v13.6h-13.6zM1375.8 2308.2h13.6v13.6h-13.6zM1405 2321.6h13.6v13.6h-13.6zM1434.1 2334.3h13.6v13.6h-13.6zM1463.2 2346.3h13.6v13.6h-13.6zM1492.4 2357.7h13.6v13.6h-13.6zM1521.5 2368.4h13.6v13.6h-13.6zM1550.6 2378.7h13.6v13.6h-13.6zM1579.8 2388.4h13.6v13.6h-13.6zM1608.9 2397.7h13.6v13.6h-13.6zM1638 2406.5h13.6v13.6h-13.6zM1667.2 2415h13.6v13.6h-13.6zM1696.3 2423.1h13.6v13.6h-13.6z" fill="#aa4643" stroke="#aa4643" stroke-width="4" stroke-linejoin="round"/>
<path d="M275.6 2735.1C280.5 2735 295 2734.6 304.7 2734.3C314.4 2734.1 324.2 2733.8 333.9 2733.5C343.6 2733.3 353.3 2733 363 2732.8C372.7 2732.5 382.4 2732.2 392.1 2732C401.8 2731.7 411.6 2731.5 421.3 2731.2C431 2730.9 440.7 2730.7 450.4 2730.4C460.1 2730.2 469.8 2729.9 479.5 2729.6C489.2 2729.4 499 2729.1 508.7 2728.9C518.4 2728.6 528.1 2728.3 537.8 2728.1C547.5 2727.8 557.2 2727.6 566.9 2727.3C576.6 2727 586.3 2726.8 596.1 2726.5C605.8 2726.3 615.5 2726 625.2 2725.7C634.9 2725.5 644.6 2725.2 654.3 2725C664 2724.7 673.7 2724.4 683.5 2724.2C693.2 2723.9 702.9 2723.7 712.6 2723.4C722.3 2723.1 732 2722.9 741.7 2722.6C751.4 2722.4 761.1 2725.3 770.9 2721.8C780.6 2718.4 790.3 2715.5 800 2701.9C809.7 2688.2 819.4 2659.1 829.1 2639.9C838.8 2620.7 848.5 2603.4 858.3 2586.8C868 2570.1 877.7 2554.5 887.4 2539.8C897.1 2525 906.8 2511.3 916.5 2498.1C926.2 2484.9 935.9 2472.4 945.7 2460.5C955.4 2448.5 965.1 2437.3 974.8 2426.4C984.5 2415.5 994.2 2405.3 1003.9 2395.4C1013.6 2385.4 1023.3 2376 1033 2367C1042.8 2357.9 1052.5 2349.2 1062.2 2340.9C1071.9 2332.5 1081.6 2324.5 1091.3 2316.8C1101 2309.1 1110.7 2301.7 1120.4 2294.6C1130.2 2287.4 1139.9 2280.6 1149.6 2273.9C1159.3 2267.3 1169 2260.9 1178.7 2254.7C1188.4 2248.5 1198.1 2242.6 1207.8 2236.8C1217.6 2231 1227.3 2225.4 1237 2220C1246.7 2214.6 1256.4 2209.4 1266.1 2204.3C1275.8 2199.2 1285.5 2194.3 1295.2 2189.5C1305 2184.7 1314.7 2180.1 1324.4 2175.6C1334.1 2171.1 1343.8 2166.7 1353.5 2162.5C1363.2 2158.2 1372.9 2154.1 1382.6 2150.1C1392.4 2146 1402.1 2142.1 1411.8 2138.3C1421.5 2134.5 1431.2 2130.8 1440.9 2127.2C1450.6 2123.5 1460.3 2120 1470 2116.6C1479.7 2113.1 1489.5 2109.8 1499.2 2106.5C1508.9 2103.2 1518.6 2100 1528.3 2096.9C1538 2093.7 1547.7 2090.7 1557.4 2087.7C1567.1 2084.7 1576.9 2081.8 1586.6 2078.9C1596.3 2076.1 1606 2073.3 1615.7 2070.5C1625.4 2067.8 1635.1 2065.1 1644.8 2062.5C1654.5 2059.9 1664.3 2057.3 1674 2054.8C1683.7 2052.3 1698.2 2048.6 1703.1 2047.4" fill="none" stroke="#89a54e" stroke-width="6.2" stroke-linejoin="round" stroke-linecap="round" clip-path="url(#clip-b)"/>
<path d="M275.6 2719.6L291.1 2750.6H260.1zM304.7 2718.8L320.2 2749.8H289.2zM333.9 2718L349.4 2749H318.4zM363 2717.3L378.5 2748.3H347.5zM392.1 2716.5L407.6 2747.5H376.6zM421.3 2715.7L436.8 2746.7H405.8zM450.4 2714.9L465.9 2745.9H434.9zM479.5 2714.1L495 2745.1H464zM508.7 2713.4L524.2 2744.4H493.2zM537.8 2712.6L553.3 2743.6H522.3zM566.9 2711.8L582.4 2742.8H551.4zM596.1 2711L611.6 2742H580.6zM625.2 2710.2L640.7 2741.2H609.7zM654.3 2709.5L669.8 2740.5H638.8zM683.5 2708.7L699 2739.7H668zM712.6 2707.9L728.1 2738.9H697.1zM741.7 2707.1L757.2 2738.1H726.2zM770.9 2706.3L786.4 2737.3H755.4zM800 2686.4L815.5 2717.4H784.5zM829.1 2624.4L844.6 2655.4H813.6zM858.3 2571.3L873.8 2602.3H842.8zM887.4 2524.3L902.9 2555.3H871.9zM916.5 2482.6L932 2513.6H901zM945.7 2445L961.2 2476H930.2zM974.8 2410.9L990.3 2441.9H959.3zM1003.9 2379.9L1019.4 2410.9H988.4zM1033 2351.5L1048.5 2382.5H1017.5zM1062.2 2325.4L1077.7 2356.4H1046.7zM1091.3 2301.3L1106.8 2332.3H1075.8zM1120.4 2279.1L1135.9 2310.1H1104.9zM1149.6 2258.4L1165.1 2289.4H1134.1zM1178.7 2239.2L1194.2 2270.2H1163.2zM1207.8 2221.3L1223.3 2252.3H1192.3zM1237 2204.5L1252.5 2235.5H1221.5zM1266.1 2188.8L1281.6 2219.8H1250.6zM1295.2 2174L1310.7 2205H1279.7zM1324.4 2160.1L1339.9 2191.1H1308.9zM1353.5 2147L1369 2178H1338zM1382.6 2134.6L1398.1 2165.6H1367.1zM1411.8 2122.8L1427.3 2153.8H1396.3zM1440.9 2111.7L1456.4 2142.7H1425.4zM1470 2101.1L1485.5 2132.1H1454.5zM1499.2 2091L1514.7 2122H1483.7zM1528.3 2081.4L1543.8 2112.4H1512.8zM1557.4 2072.2L1572.9 2103.2H1541.9zM1586.6 2063.4L1602.1 2094.4H1571.1zM1615.7 2055L1631.2 2086H1600.2zM1644.8 2047L1660.3 2078H1629.3zM1674 2039.3L1689.5 2070.3H1658.5zM1703.1 2031.9L1718.6 2062.9H1687.6z" fill="#89a54e"/>
<path d="M275.6 2735.1C280.5 2735.1 295 2735.1 304.7 2735.1C314.4 2735.1 324.2 2735.1 333.9 2735.1C343.6 2735.1 353.3 2735.1 363 2735.1C372.7 2735.1 382.4 2735.1 392.1 2735.1C401.8 2735.1 411.6 2735.1 421.3 2735.1C431 2735.1 440.7 2735.1 450.4 2735.1C460.1 2735.1 469.8 2735.1 479.5 2735.1C489.2 2735.1 499 2735.1 508.7 2735.1C518.4 2735.1 528.1 2735.1 537.8 2735.1C547.5 2735.1 557.2 2735.1 566.9 2735.1C576.6 2735.1 586.3 2735.1 596.1 2735.1C605.8 2735.1 615.5 2735.1 625.2 2735.1C634.9 2735.1 644.6 2735.1 654.3 2735.1C664 2735.1 673.7 2735.1 683.5 2735.1C693.2 2735.1 702.9 2735.1 712.6 2735.1C722.3 2735.1 732 2735.1 741.7 2735.1C751.4 2735.1 761.1 2738.2 770.9 2735.1C780.6 2732 790.3 2729.9 800 2716.3C809.7 2702.6 819.4 2672.6 829.1 2653C838.8 2633.5 848.5 2615.8 858.3 2598.8C868 2581.8 877.7 2566 887.4 2551.1C897.1 2536.2 906.8 2522.6 916.5 2509.3C926.2 2496 935.9 2483.6 945.7 2471.6C955.4 2459.6 965.1 2448.2 974.8 2437.3C984.5 2426.4 994.2 2416.1 1003.9 2406.2C1013.6 2396.2 1023.3 2386.7 1033 2377.6C1042.8 2368.5 1052.5 2359.8 1062.2 2351.4C1071.9 2343 1081.6 2334.9 1091.3 2327.2C1101 2319.4 1110.7 2312 1120.4 2304.8C1130.2 2297.6 1139.9 2290.7 1149.6 2284C1159.3 2277.3 1169 2270.9 1178.7 2264.6C1188.4 2258.4 1198.1 2252.4 1207.8 2246.6C1217.6 2240.7 1227.3 2235.1 1237 2229.7C1246.7 2224.2 1256.4 2218.9 1266.1 2213.8C1275.8 2208.7 1285.5 2203.7 1295.2 2198.9C1305 2194.1 1314.7 2189.4 1324.4 2184.8C1334.1 2180.3 1343.8 2175.9 1353.5 2171.6C1363.2 2167.2 1372.9 2163.1 1382.6 2159C1392.4 2154.9 1402.1 2151 1411.8 2147.1C1421.5 2143.2 1431.2 2139.5 1440.9 2135.8C1450.6 2132.1 1460.3 2128.6 1470 2125.1C1479.7 2121.6 1489.5 2118.2 1499.2 2114.8C1508.9 2111.5 1518.6 2108.3 1528.3 2105.1C1538 2101.9 1547.7 2098.8 1557.4 2095.8C1567.1 2092.7 1576.9 2089.8 1586.6 2086.9C1596.3 2084 1606 2081.1 1615.7 2078.3C1625.4 2075.6 1635.1 2072.8 1644.8 2070.2C1654.5 2067.5 1664.3 2064.9 1674 2062.3C1683.7 2059.7 1698.2 2056 1703.1 2054.8" fill="none" stroke="#71588f" stroke-width="6.2" stroke-linejoin="round" stroke-linecap="round" clip-path="url(#clip-b)"/>
<path d="M260 2719.5l31.2 31.2M260 2750.7l31.2 -31.2M289.1 2719.5l31.2 31.2M289.1 2750.7l31.2 -31.2M318.3 2719.5l31.2 31.2M318.3 2750.7l31.2 -31.2M347.4 2719.5l31.2 31.2M347.4 2750.7l31.2 -31.2M376.5 2719.5l31.2 31.2M376.5 2750.7l31.2 -31.2M405.7 2719.5l31.2 31.2M405.7 2750.7l31.2 -31.2M434.8 2719.5l31.2 31.2M434.8 2750.7l31.2 -31.2M463.9 2719.5l31.2 31.2M463.9 2750.7l31.2 -31.2M493.1 2719.5l31.2 31.2M493.1 2750.7l31.2 -31.2M522.2 2719.5l31.2 31.2M522.2 2750.7l31.2 -31.2M551.3 2719.5l31.2 31.2M551.3 2750.7l31.2 -31.2M580.5 2719.5l31.2 31.2M580.5 2750.7l31.2 -31.2M609.6 2719.5l31.2 31.2M609.6 2750.7l31.2 -31.2M638.7 2719.5l31.2 31.2M638.7 2750.7l31.2 -31.2M667.9 2719.5l31.2 31.2M667.9 2750.7l31.2 -31.2M697 2719.5l31.2 31.2M697 2750.7l31.2 -31.2M726.1 2719.5l31.2 31.2M726.1 2750.7l31.2 -31.2M755.3 2719.5l31.2 31.2M755.3 2750.7l31.2 -31.2M784.4 2700.7l31.2 31.2M784.4 2731.9l31.2 -31.2M813.5 2637.4l31.2 31.2M813.5 2668.6l31.2 -31.2M842.7 2583.2l31.2 31.2M842.7 2614.4l31.2 -31.2M871.8 2535.5l31.2 31.2M871.8 2566.7l31.2 -31.2M900.9 2493.7l31.2 31.2M900.9 2524.9l31.2 -31.2M930.1 2456l31.2 31.2M930.1 2487.2l31.2 -31.2M959.2 2421.7l31.2 31.2M959.2 2452.9l31.2 -31.2M988.3 2390.6l31.2 31.2M988.3 2421.8l31.2 -31.2M1017.4 2362l31.2 31.2M1017.4 2393.2l31.2 -31.2M1046.6 2335.8l31.2 31.2M1046.6 2367l31.2 -31.2M1075.7 2311.6l31.2 31.2M1075.7 2342.8l31.2 -31.2M1104.8 2289.2l31.2 31.2M1104.8 2320.4l31.2 -31.2M1134 2268.4l31.2 31.2M1134 2299.6l31.2 -31.2M1163.1 2249l31.2 31.2M1163.1 2280.2l31.2 -31.2M1192.2 2231l31.2 31.2M1192.2 2262.2l31.2 -31.2M1221.4 2214.1l31.2 31.2M1221.4 2245.3l31.2 -31.2M1250.5 2198.2l31.2 31.2M1250.5 2229.4l31.2 -31.2M1279.6 2183.3l31.2 31.2M1279.6 2214.5l31.2 -31.2M1308.8 2169.2l31.2 31.2M1308.8 2200.4l31.2 -31.2M1337.9 2156l31.2 31.2M1337.9 2187.2l31.2 -31.2M1367 2143.4l31.2 31.2M1367 2174.6l31.2 -31.2M1396.2 2131.5l31.2 31.2M1396.2 2162.7l31.2 -31.2M1425.3 2120.2l31.2 31.2M1425.3 2151.4l31.2 -31.2M1454.4 2109.5l31.2 31.2M1454.4 2140.7l31.2 -31.2M1483.6 2099.2l31.2 31.2M1483.6 2130.4l31.2 -31.2M1512.7 2089.5l31.2 31.2M1512.7 2120.7l31.2 -31.2M1541.8 2080.2l31.2 31.2M1541.8 2111.4l31.2 -31.2M1571 2071.3l31.2 31.2M1571 2102.5l31.2 -31.2M1600.1 2062.7l31.2 31.2M1600.1 2093.9l31.2 -31.2M1629.2 2054.6l31.2 31.2M1629.2 2085.8l31.2 -31.2M1658.4 2046.7l31.2 31.2M1658.4 2077.9l31.2 -31.2M1687.5 2039.2l31.2 31.2M1687.5 2070.4l31.2 -31.2" fill="none" stroke="#71588f" stroke-width="3"/>
<path d="M275.6 2735.1C280.5 2735.1 295 2735.1 304.7 2735.1C314.4 2735.1 324.2 2735.1 333.9 2735.1C343.6 2735.1 353.3 2735.1 363 2735.1C372.7 2735.1 382.4 2735.1 392.1 2735.1C401.8 2735.1 411.6 2735.1 421.3 2735.1C431 2735.1 440.7 2735.1 450.4 2735.1C460.1 2735.1 469.8 2735.1 479.5 2735.1C489.2 2735.1 499 2735.1 508.7 2735.1C518.4 2735.1 528.1 2735.1 537.8 2735.1C547.5 2735.1 557.2 2735.1 566.9 2735.1C576.6 2735.1 586.3 2735.1 596.1 2735.1C605.8 2735.1 615.5 2735.1 625.2 2735.1C634.9 2735.1 644.6 2735.1 654.3 2735.1C664 2735.1 673.7 2735.1 683.5 2735.1C693.2 2735.1 702.9 2735.1 712.6 2735.1C722.3 2735.1 732 2735.1 741.7 2735.1C751.4 2735.1 761.1 2735.8 770.9 2735.1C780.6 2734.4 790.3 2734.5 800 2730.6C809.7 2726.8 819.4 2717 829.1 2712.1C838.8 2707.3 848.5 2705 858.3 2701.7C868 2698.4 877.7 2695.4 887.4 2692.4C897.1 2689.4 906.8 2686.4 916.5 2683.5C926.2 2680.6 935.9 2677.6 945.7 2674.9C955.4 2672.3 965.1 2669.9 974.8 2667.6C984.5 2665.2 994.2 2663.1 1003.9 2661C1013.6 2658.9 1023.3 2656.9 1033 2655.1C1042.8 2653.3 1052.5 2651.6 1062.2 2650.1C1071.9 2648.5 1081.6 2647.3 1091.3 2645.9C1101 2644.6 1110.7 2643.3 1120.4 2642.1C1130.2 2641 1139.9 2640 1149.6 2638.9C1159.3 2637.9 1169 2636.8 1178.7 2635.8C1188.4 2634.8 1198.1 2633.7 1207.8 2632.8C1217.6 2631.8 1227.3 2630.9 1237 2630C1246.7 2629.1 1256.4 2628.3 1266.1 2627.5C1275.8 2626.8 1285.5 2626.1 1295.2 2625.4C1305 2624.8 1314.7 2624.1 1324.4 2623.5C1334.1 2622.9 1343.8 2622.3 1353.5 2621.7C1363.2 2621.2 1372.9 2620.5 1382.6 2620C1392.4 2619.4 1402.1 2618.8 1411.8 2618.3C1421.5 2617.8 1431.2 2617.2 1440.9 2616.7C1450.6 2616.2 1460.3 2615.8 1470 2615.4C1479.7 2615 1489.5 2614.5 1499.2 2614.2C1508.9 2613.8 1518.6 2613.5 1528.3 2613.2C1538 2612.8 1547.7 2612.5 1557.4 2612.2C1567.1 2611.8 1576.9 2611.6 1586.6 2611.3C1596.3 2611 1606 2610.7 1615.7 2610.4C1625.4 2610.1 1635.1 2609.8 1644.8 2609.5C1654.5 2609.2 1664.3 2608.9 1674 2608.6C1683.7 2608.3 1698.2 2607.9 1703.1 2607.8" fill="none" stroke="#4198af" stroke-width="6.2" stroke-linejoin="round" stroke-linecap="round" clip-path="url(#clip-b)"/>
<path d="M261 2720.5l29.2 29.2M261 2749.7l29.2 -29.2M275.6 2720.5v29.2M290.1 2720.5l29.2 29.2M290.1 2749.7l29.2 -29.2M304.7 2720.5v29.2M319.3 2720.5l29.2 29.2M319.3 2749.7l29.2 -29.2M333.9 2720.5v29.2M348.4 2720.5l29.2 29.2M348.4 2749.7l29.2 -29.2M363 2720.5v29.2M377.5 2720.5l29.2 29.2M377.5 2749.7l29.2 -29.2M392.1 2720.5v29.2M406.7 2720.5l29.2 29.2M406.7 2749.7l29.2 -29.2M421.3 2720.5v29.2M435.8 2720.5l29.2 29.2M435.8 2749.7l29.2 -29.2M450.4 2720.5v29.2M464.9 2720.5l29.2 29.2M464.9 2749.7l29.2 -29.2M479.5 2720.5v29.2M494.1 2720.5l29.2 29.2M494.1 2749.7l29.2 -29.2M508.7 2720.5v29.2M523.2 2720.5l29.2 29.2M523.2 2749.7l29.2 -29.2M537.8 2720.5v29.2M552.3 2720.5l29.2 29.2M552.3 2749.7l29.2 -29.2M566.9 2720.5v29.2M581.5 2720.5l29.2 29.2M581.5 2749.7l29.2 -29.2M596.1 2720.5v29.2M610.6 2720.5l29.2 29.2M610.6 2749.7l29.2 -29.2M625.2 2720.5v29.2M639.7 2720.5l29.2 29.2M639.7 2749.7l29.2 -29.2M654.3 2720.5v29.2M668.9 2720.5l29.2 29.2M668.9 2749.7l29.2 -29.2M683.5 2720.5v29.2M698 2720.5l29.2 29.2M698 2749.7l29.2 -29.2M712.6 2720.5v29.2M727.1 2720.5l29.2 29.2M727.1 2749.7l29.2 -29.2M741.7 2720.5v29.2M756.3 2720.5l29.2 29.2M756.3 2749.7l29.2 -29.2M770.9 2720.5v29.2M785.4 2716l29.2 29.2M785.4 2745.2l29.2 -29.2M800 2716v29.2M814.5 2697.5l29.2 29.2M814.5 2726.7l29.2 -29.2M829.1 2697.5v29.2M843.7 2687.1l29.2 29.2M843.7 2716.3l29.2 -29.2M858.3 2687.1v29.2M872.8 2677.8l29.2 29.2M872.8 2707l29.2 -29.2M887.4 2677.8v29.2M901.9 2668.9l29.2 29.2M901.9 2698.1l29.2 -29.2M916.5 2668.9v29.2M931.1 2660.3l29.2 29.2M931.1 2689.5l29.2 -29.2M945.7 2660.3v29.2M960.2 2653l29.2 29.2M960.2 2682.2l29.2 -29.2M974.8 2653v29.2M989.3 2646.4l29.2 29.2M989.3 2675.6l29.2 -29.2M1003.9 2646.4v29.2M1018.4 2640.5l29.2 29.2M1018.4 2669.7l29.2 -29.2M1033 2640.5v29.2M1047.6 2635.5l29.2 29.2M1047.6 2664.7l29.2 -29.2M1062.2 2635.5v29.2M1076.7 2631.3l29.2 29.2M1076.7 2660.5l29.2 -29.2M1091.3 2631.3v29.2M1105.8 2627.5l29.2 29.2M1105.8 2656.7l29.2 -29.2M1120.4 2627.5v29.2M1135 2624.3l29.2 29.2M1135 2653.5l29.2 -29.2M1149.6 2624.3v29.2M1164.1 2621.2l29.2 29.2M1164.1 2650.4l29.2 -29.2M1178.7 2621.2v29.2M1193.2 2618.2l29.2 29.2M1193.2 2647.4l29.2 -29.2M1207.8 2618.2v29.2M1222.4 2615.4l29.2 29.2M1222.4 2644.6l29.2 -29.2M1237 2615.4v29.2M1251.5 2612.9l29.2 29.2M1251.5 2642.1l29.2 -29.2M1266.1 2612.9v29.2M1280.6 2610.8l29.2 29.2M1280.6 2640l29.2 -29.2M1295.2 2610.8v29.2M1309.8 2608.9l29.2 29.2M1309.8 2638.1l29.2 -29.2M1324.4 2608.9v29.2M1338.9 2607.1l29.2 29.2M1338.9 2636.3l29.2 -29.2M1353.5 2607.1v29.2M1368 2605.4l29.2 29.2M1368 2634.6l29.2 -29.2M1382.6 2605.4v29.2M1397.2 2603.7l29.2 29.2M1397.2 2632.9l29.2 -29.2M1411.8 2603.7v29.2M1426.3 2602.1l29.2 29.2M1426.3 2631.3l29.2 -29.2M1440.9 2602.1v29.2M1455.4 2600.8l29.2 29.2M1455.4 2630l29.2 -29.2M1470 2600.8v29.2M1484.6 2599.6l29.2 29.2M1484.6 2628.8l29.2 -29.2M1499.2 2599.6v29.2M1513.7 2598.6l29.2 29.2M1513.7 2627.8l29.2 -29.2M1528.3 2598.6v29.2M1542.8 2597.6l29.2 29.2M1542.8 2626.8l29.2 -29.2M1557.4 2597.6v29.2M1572 2596.7l29.2 29.2M1572 2625.9l29.2 -29.2M1586.6 2596.7v29.2M1601.1 2595.8l29.2 29.2M1601.1 2625l29.2 -29.2M1615.7 2595.8v29.2M1630.2 2594.9l29.2 29.2M1630.2 2624.1l29.2 -29.2M1644.8 2594.9v29.2M1659.4 2594l29.2 29.2M1659.4 2623.2l29.2 -29.2M1674 2594v29.2M1688.5 2593.2l29.2 29.2M1688.5 2622.4l29.2 -29.2M1703.1 2593.2v29.2" fill="none" stroke="#4198af" stroke-width="3"/>
<path d="M275.6 2735.1C280.5 2735 295 2734.6 304.7 2734.3C314.4 2734.1 324.2 2733.8 333.9 2733.5C343.6 2733.3 353.3 2733 363 2732.8C372.7 2732.5 382.4 2732.2 392.1 2732C401.8 2731.7 411.6 2731.5 421.3 2731.2C431 2730.9 440.7 2730.7 450.4 2730.4C460.1 2730.2 469.8 2729.9 479.5 2729.6C489.2 2729.4 499 2729.1 508.7 2728.9C518.4 2728.6 528.1 2728.3 537.8 2728.1C547.5 2727.8 557.2 2727.6 566.9 2727.3C576.6 2727 586.3 2726.8 596.1 2726.5C605.8 2726.3 615.5 2726 625.2 2725.7C634.9 2725.5 644.6 2725.2 654.3 2725C664 2724.7 673.7 2724.4 683.5 2724.2C693.2 2723.9 702.9 2723.7 712.6 2723.4C722.3 2723.1 732 2722.9 741.7 2722.6C751.4 2722.4 761.1 2722.2 770.9 2721.8C780.6 2721.5 790.3 2720.7 800 2720.7C809.7 2720.7 819.4 2721.6 829.1 2721.9C838.8 2722.3 848.5 2722.8 858.3 2723.1C868 2723.4 877.7 2723.6 887.4 2723.7C897.1 2723.9 906.8 2723.8 916.5 2723.9C926.2 2723.9 935.9 2724 945.7 2724C955.4 2724.1 965.1 2724.1 974.8 2724.2C984.5 2724.2 994.2 2724.3 1003.9 2724.3C1013.6 2724.4 1023.3 2724.4 1033 2724.4C1042.8 2724.5 1052.5 2724.5 1062.2 2724.6C1071.9 2724.6 1081.6 2724.7 1091.3 2724.7C1101 2724.8 1110.7 2724.8 1120.4 2724.9C1130.2 2724.9 1139.9 2725 1149.6 2725C1159.3 2725.1 1169 2725.1 1178.7 2725.2C1188.4 2725.2 1198.1 2725.3 1207.8 2725.3C1217.6 2725.4 1227.3 2725.4 1237 2725.5C1246.7 2725.5 1256.4 2725.5 1266.1 2725.6C1275.8 2725.6 1285.5 2725.7 1295.2 2725.7C1305 2725.8 1314.7 2725.8 1324.4 2725.9C1334.1 2725.9 1343.8 2726 1353.5 2726C1363.2 2726.1 1372.9 2726.1 1382.6 2726.2C1392.4 2726.2 1402.1 2726.3 1411.8 2726.3C1421.5 2726.4 1431.2 2726.4 1440.9 2726.5C1450.6 2726.5 1460.3 2726.5 1470 2726.6C1479.7 2726.6 1489.5 2726.7 1499.2 2726.7C1508.9 2726.8 1518.6 2726.8 1528.3 2726.9C1538 2726.9 1547.7 2727 1557.4 2727C1567.1 2727.1 1576.9 2727.1 1586.6 2727.2C1596.3 2727.2 1606 2727.3 1615.7 2727.3C1625.4 2727.4 1635.1 2727.4 1644.8 2727.5C1654.5 2727.5 1664.3 2727.6 1674 2727.6C1683.7 2727.6 1698.2 2727.7 1703.1 2727.7" fill="none" stroke="#db843d" stroke-width="6.2" stroke-linejoin="round" stroke-linecap="round" clip-path="url(#clip-b)"/>
<path d="M261.3 2735.1a14.3 14.3 0 1 0 28.6 0a14.3 14.3 0 1 0 -28.6 0zM290.4 2734.3a14.3 14.3 0 1 0 28.6 0a14.3 14.3 0 1 0 -28.6 0zM319.6 2733.5a14.3 14.3 0 1 0 28.6 0a14.3 14.3 0 1 0 -28.6 0zM348.7 2732.8a14.3 14.3 0 1 0 28.6 0a14.3 14.3 0 1 0 -28.6 0zM377.8 2732a14.3 14.3 0 1 0 28.6 0a14.3 14.3 0 1 0 -28.6 0zM407 2731.2a14.3 14.3 0 1 0 28.6 0a14.3 14.3 0 1 0 -28.6 0zM436.1 2730.4a14.3 14.3 0 1 0 28.6 0a14.3 14.3 0 1 0 -28.6 0zM465.2 2729.6a14.3 14.3 0 1 0 28.6 0a14.3 14.3 0 1 0 -28.6 0zM494.4 2728.9a14.3 14.3 0 1 0 28.6 0a14.3 14.3 0 1 0 -28.6 0zM523.5 2728.1a14.3 14.3 0 1 0 28.6 0a14.3 14.3 0 1 0 -28.6 0zM552.6 2727.3a14.3 14.3 0 1 0 28.6 0a14.3 14.3 0 1 0 -28.6 0zM581.8 2726.5a14.3 14.3 0 1 0 28.6 0a14.3 14.3 0 1 0 -28.6 0zM610.9 2725.7a14.3 14.3 0 1 0 28.6 0a14.3 14.3 0 1 0 -28.6 0zM640 2725a14.3 14.3 0 1 0 28.6 0a14.3 14.3 0 1 0 -28.6 0zM669.2 2724.2a14.3 14.3 0 1 0 28.6 0a14.3 14.3 0 1 0 -28.6 0zM698.3 2723.4a14.3 14.3 0 1 0 28.6 0a14.3 14.3 0 1 0 -28.6 0zM727.4 2722.6a14.3 14.3 0 1 0 28.6 0a14.3 14.3 0 1 0 -28.6 0zM756.6 2721.8a14.3 14.3 0 1 0 28.6 0a14.3 14.3 0 1 0 -28.6 0zM785.7 2720.7a14.3 14.3 0 1 0 28.6 0a14.3 14.3 0 1 0 -28.6 0zM814.8 2721.9a14.3 14.3 0 1 0 28.6 0a14.3 14.3 0 1 0 -28.6 0zM844 2723.1a14.3 14.3 0 1 0 28.6 0a14.3 14.3 0 1 0 -28.6 0zM873.1 2723.7a14.3 14.3 0 1 0 28.6 0a14.3 14.3 0 1 0 -28.6 0zM902.2 2723.9a14.3 14.3 0 1 0 28.6 0a14.3 14.3 0 1 0 -28.6 0zM931.4 2724a14.3 14.3 0 1 0 28.6 0a14.3 14.3 0 1 0 -28.6 0zM960.5 2724.2a14.3 14.3 0 1 0 28.6 0a14.3 14.3 0 1 0 -28.6 0zM989.6 2724.3a14.3 14.3 0 1 0 28.6 0a14.3 14.3 0 1 0 -28.6 0zM1018.7 2724.4a14.3 14.3 0 1 0 28.6 0a14.3 14.3 0 1 0 -28.6 0zM1047.9 2724.6a14.3 14.3 0 1 0 28.6 0a14.3 14.3 0 1 0 -28.6 0zM1077 2724.7a14.3 14.3 0 1 0 28.6 0a14.3 14.3 0 1 0 -28.6 0zM1106.1 2724.9a14.3 14.3 0 1 0 28.6 0a14.3 14.3 0 1 0 -28.6 0zM1135.3 2725a14.3 14.3 0 1 0 28.6 0a14.3 14.3 0 1 0 -28.6 0zM1164.4 2725.2a14.3 14.3 0 1 0 28.6 0a14.3 14.3 0 1 0 -28.6 0zM1193.5 2725.3a14.3 14.3 0 1 0 28.6 0a14.3 14.3 0 1 0 -28.6 0zM1222.7 2725.5a14.3 14.3 0 1 0 28.6 0a14.3 14.3 0 1 0 -28.6 0zM1251.8 2725.6a14.3 14.3 0 1 0 28.6 0a14.3 14.3 0 1 0 -28.6 0zM1280.9 2725.7a14.3 14.3 0 1 0 28.6 0a14.3 14.3 0 1 0 -28.6 0zM1310.1 2725.9a14.3 14.3 0 1 0 28.6 0a14.3 14.3 0 1 0 -28.6 0zM1339.2 2726a14.3 14.3 0 1 0 28.6 0a14.3 14.3 0 1 0 -28.6 0zM1368.3 2726.2a14.3 14.3 0 1 0 28.6 0a14.3 14.3 0 1 0 -28.6 0zM1397.5 2726.3a14.3 14.3 0 1 0 28.6 0a14.3 14.3 0 1 0 -28.6 0zM1426.6 2726.5a14.3 14.3 0 1 0 28.6 0a14.3 14.3 0 1 0 -28.6 0zM1455.7 2726.6a14.3 14.3 0 1 0 28.6 0a14.3 14.3 0 1 0 -28.6 0zM1484.9 2726.7a14.3 14.3 0 1 0 28.6 0a14.3 14.3 0 1 0 -28.6 0zM1514 2726.9a14.3 14.3 0 1 0 28.6 0a14.3 14.3 0 1 0 -28.6 0zM1543.1 2727a14.3 14.3 0 1 0 28.6 0a14.3 14.3 0 1 0 -28.6 0zM1572.3 2727.2a14.3 14.3 0 1 0 28.6 0a14.3 14.3 0 1 0 -28.6 0zM1601.4 2727.3a14.3 14.3 0 1 0 28.6 0a14.3 14.3 0 1 0 -28.6 0zM1630.5 2727.5a14.3 14.3 0 1 0 28.6 0a14.3 14.3 0 1 0 -28.6 0zM1659.7 2727.6a14.3 14.3 0 1 0 28.6 0a14.3 14.3 0 1 0 -28.6 0zM1688.8 2727.7a14.3 14.3 0 1 0 28.6 0a14.3 14.3 0 1 0 -28.6 0z" fill="#db843d"/>
<path d="M1777.2 2027.8H1847.4" stroke="#4572a7" stroke-width="7" stroke-linecap="round" fill="none"/>
<path d="M1812.3 2013.8l14 14 -14 14 -14 -14z" fill="#4572a7"/>
<text x="1853.4" y="2042.4" font-family='"Liberation Sans", Arial, sans-serif' font-size="49" textLength="133.6" lengthAdjust="spacingAndGlyphs">CO(g)</text>

<path d="M1777.2 2106.2H1847.4" stroke="#aa4643" stroke-width="7" stroke-linecap="round" fill="none"/>
<path d="M1806.3 2100.2h12v12h-12z" fill="#aa4643" stroke="#aa4643" stroke-width="4" stroke-linejoin="round"/>
<text x="1853.4" y="2122" font-family='"Liberation Sans", Arial, sans-serif' font-size="49" textLength="120.6" lengthAdjust="spacingAndGlyphs">Zn(g)</text>

<path d="M1777.2 2186.9H1847.4" stroke="#89a54e" stroke-width="7" stroke-linecap="round" fill="none"/>
<path d="M1812.3 2173.4L1825.8 2200.4H1798.8z" fill="#89a54e"/>
<text x="1853.4" y="2202" font-family='"Liberation Sans", Arial, sans-serif' font-size="49" textLength="31.5" lengthAdjust="spacingAndGlyphs">C</text>

<path d="M1777.2 2265.3H1847.4" stroke="#71588f" stroke-width="7" stroke-linecap="round" fill="none"/>
<path d="M1798.8 2251.8l27 27M1798.8 2278.8l27 -27" fill="none" stroke="#9a86b8" stroke-width="2.2"/>
<text x="1853.4" y="2281" font-family='"Liberation Sans", Arial, sans-serif' font-size="49" textLength="96" lengthAdjust="spacingAndGlyphs">ZnO</text>

<path d="M1777.2 2344.9H1847.4" stroke="#4198af" stroke-width="7" stroke-linecap="round" fill="none"/>
<path d="M1798.8 2331.4l27 27M1798.8 2358.4l27 -27M1812.3 2331.4v27" fill="none" stroke="#7fbccc" stroke-width="2.2"/>
<text x="1853.4" y="2360.5" font-family='"Liberation Sans", Arial, sans-serif' font-size="49" textLength="57.7" lengthAdjust="spacingAndGlyphs">Zn</text>

<path d="M1777.2 2423.6H1847.4" stroke="#db843d" stroke-width="7" stroke-linecap="round" fill="none"/>
<path d="M1798.7 2423.6a13.6 13.6 0 1 0 27.2 0a13.6 13.6 0 1 0 -27.2 0z" fill="#db843d"/>
<text x="1853.4" y="2439.4" font-family='"Liberation Sans", Arial, sans-serif' font-size="49" textLength="162.8" lengthAdjust="spacingAndGlyphs">CO2(g)</text>

<text x="1102.5" y="1688.7" font-family='"Liberation Sans", Arial, sans-serif' font-size="43.5" textLength="410" lengthAdjust="spacingAndGlyphs">ZnO+C (@ T=750°C)</text>

<text x="822" y="2895" font-family='"Liberation Sans", Arial, sans-serif' font-size="48.6" font-weight="bold" textLength="335" lengthAdjust="spacingAndGlyphs">Pressure (bar)</text>

<text transform="translate(99.2 2545.5) rotate(-90)" font-family='"Liberation Sans", Arial, sans-serif' font-size="51" font-weight="bold" textLength="721" lengthAdjust="spacingAndGlyphs">Equilibrium composition (mol)</text>
</g>
<text y="3064.3" font-family='"Liberation Serif", "DejaVu Serif", serif' font-size="82"><tspan x="993.5">(</tspan><tspan x="1020" font-weight="bold">b</tspan><tspan x="1065.5">)</tspan></text>
</g>
</svg>
</body></html>
